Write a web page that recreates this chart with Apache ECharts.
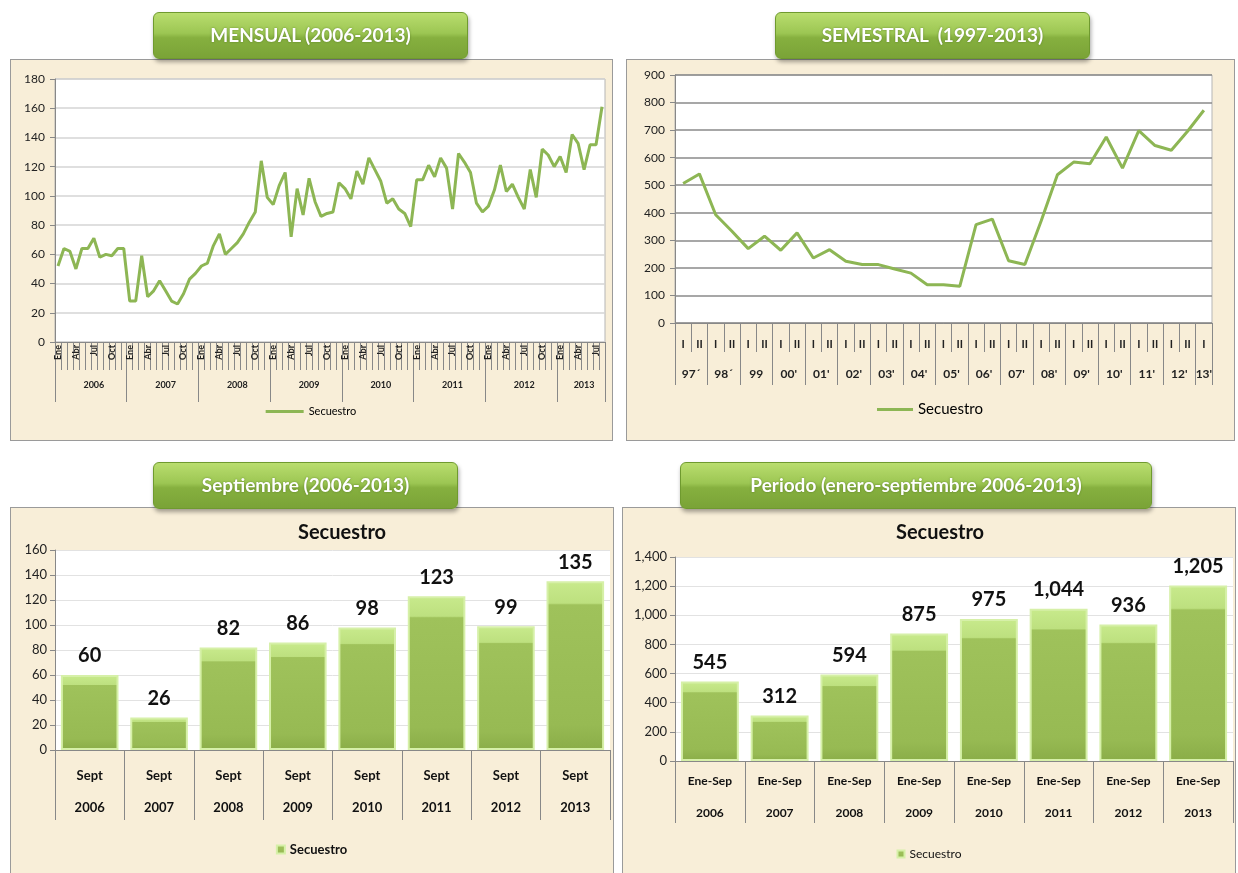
<!DOCTYPE html>
<html>
<head>
<meta charset="utf-8">
<script src="https://cdn.jsdelivr.net/npm/echarts@6/dist/echarts.min.js"></script>
<style>
  body { margin: 0; background: #fff; font-family: Lato, "Open Sans", sans-serif; }
  .panel { position: absolute; background: #f8eed8; border: 1px solid #9a9a9a; box-sizing: border-box; }
  .btn {
    position: absolute; z-index: 5; color: #fff; font-weight: bold; font-size: 19px;
    text-align: center; line-height: 44px; border-radius: 6px; box-sizing: border-box;
    background: linear-gradient(#b9dd6e, #9cc653 45%, #86b03f 55%, #7aa337);
    border: 1px solid #6f9a2f; box-shadow: 1px 3px 4px rgba(0,0,0,0.35);
    text-shadow: 0 0 2px rgba(60,90,20,0.6); font-family: Lato, sans-serif;
  }
  .chart { position: absolute; }
</style>
</head>
<body>
<div class="panel" style="left:10px;top:59px;width:603px;height:382px;"></div>
<div class="panel" style="left:626px;top:59px;width:609px;height:382px;"></div>
<div class="panel" style="left:10px;top:507px;width:604px;height:370px;"></div>
<div class="panel" style="left:622px;top:507px;width:614px;height:370px;"></div>

<div class="btn" style="left:153px;top:12px;width:315px;height:47px;">MENSUAL (2006-2013)</div>
<div class="btn" style="left:775px;top:12px;width:315px;height:47px;">SEMESTRAL &nbsp;(1997-2013)</div>
<div class="btn" style="left:153px;top:462px;width:305px;height:47px;">Septiembre (2006-2013)</div>
<div class="btn" style="left:680px;top:462px;width:472px;height:47px;">Periodo (enero-septiembre 2006-2013)</div>

<div id="c1" class="chart" style="left:10px;top:60px;width:602px;height:380px;"></div>
<div id="c2" class="chart" style="left:626px;top:60px;width:608px;height:380px;"></div>
<div id="c3" class="chart" style="left:10px;top:508px;width:603px;height:365px;"></div>
<div id="c4" class="chart" style="left:622px;top:508px;width:614px;height:365px;"></div>

<script>
// datos mensuales (ene 2006 - ago 2013)
var meses = ['Ene', 'Feb', 'Mar', 'Abr', 'May', 'Jun', 'Jul', 'Ago', 'Sep', 'Oct', 'Nov', 'Dic'];
var anios = ['2006', '2007', '2008', '2009', '2010', '2011', '2012', '2013'];
var m2006 = [52, 64, 62, 50, 64, 64, 71, 58, 60, 59, 64, 64];
var m2007 = [28, 28, 59, 31, 35, 42, 35, 28, 26, 33, 43, 47];
var m2008 = [52, 54, 66, 74, 60, 64, 68, 74, 82, 89, 124, 99];
var m2009 = [94, 107, 116, 72, 105, 87, 112, 96, 86, 88, 89, 109];
var m2010 = [105, 98, 117, 108, 126, 118, 110, 95, 98, 91, 88, 79];
var m2011 = [111, 111, 121, 113, 126, 119, 91, 129, 123, 116, 95, 89];
var m2012 = [93, 104, 121, 103, 108, 99, 91, 118, 99, 132, 128, 120];
var m2013 = [127, 116, 142, 136, 118, 135, 135, 161];

// semestral 1997 - 2013
var semAnios = ['97´', '98´', '99', "00'", "01'", "02'", "03'", "04'", "05'", "06'", "07'", "08'", "09'", "10'", "11'", "12'", "13'"];
var semestral = [506, 541, 393, 333, 270, 315, 264, 327, 236, 266, 224, 212, 212, 196, 181, 139,
                 139, 133, 357, 377, 226, 212, 370, 538, 584, 578, 675, 562, 698, 644, 627, 696, 772];

// septiembre y periodo ene-sep
var septiembre = [60, 26, 82, 86, 98, 123, 99, 135];
var periodo = [545, 312, 594, 875, 975, 1044, 936, 1205];

var verde = '#8db654';
var fuente = 'Lato, sans-serif';

// ---------- mensual ----------
var mensual = [].concat(m2006, m2007, m2008, m2009, m2010, m2011, m2012, m2013);
var catMes = [], catAnio = [];
mensual.forEach(function (v, i) {
    catMes.push(meses[i % 12]);
    var a = Math.floor(i / 12);
    var mid = (a === 7) ? 88 : a * 12 + 6;
    catAnio.push(i === mid ? anios[a] : '');
});

var chart1 = echarts.init(document.getElementById('c1'));
chart1.setOption({
    animation: false,
    grid: { left: 45, top: 19, right: 7, height: 263, show: true, backgroundColor: '#fff', borderColor: '#b5b5b5', borderWidth: 1 },
    legend: {
        bottom: 18, left: 'center', data: ['Secuestro'], icon: 'rect', itemWidth: 38, itemHeight: 3, itemGap: 4,
        textStyle: { fontSize: 11, color: '#000', fontFamily: fuente }
    },
    xAxis: [{
        type: 'category', data: catMes, position: 'bottom',
        axisLine: { lineStyle: { color: '#888' } },
        axisTick: { show: true, interval: 0, length: 28, lineStyle: { color: '#888' } },
        axisLabel: {
            interval: function (i) { return i % 3 === 0; }, rotate: 90, fontSize: 9, fontWeight: 'bold',
            color: '#222', margin: 3, fontFamily: fuente
        }
    }, {
        type: 'category', data: catAnio, position: 'bottom',
        axisLine: { show: false },
        axisTick: { show: true, interval: function (i) { return i % 12 === 0; }, length: 60, lineStyle: { color: '#888' } },
        axisLabel: { interval: 0, fontSize: 9, fontWeight: 'bold', color: '#222', margin: 39, fontFamily: fuente }
    }],
    yAxis: {
        type: 'value', min: 0, max: 180, interval: 20,
        axisLine: { show: true, lineStyle: { color: '#888' } },
        axisTick: { show: true, length: 5, lineStyle: { color: '#888' } },
        axisLabel: { fontSize: 12, color: '#222', margin: 10, fontFamily: fuente },
        splitLine: { lineStyle: { color: '#d4d4d4', width: 1.5 } }
    },
    series: [{
        name: 'Secuestro', type: 'line', data: mensual, xAxisIndex: 0, symbol: 'none',
        lineStyle: { color: verde, width: 3 }, itemStyle: { color: verde }
    }]
});

// ---------- semestral ----------
var catSem = [], catSemAnio = [];
semestral.forEach(function (v, i) {
    catSem.push(i % 2 === 0 ? 'I' : 'II');
    var a = Math.floor(i / 2);
    if (i % 2 === 0) {
        catSemAnio.push(i === semestral.length - 1 ? '{e|' + semAnios[a] + '}' : '{s|' + semAnios[a] + '}');
    } else {
        catSemAnio.push('');
    }
});

var chart2 = echarts.init(document.getElementById('c2'));
chart2.setOption({
    animation: false,
    grid: { left: 49, top: 15, right: 22, height: 248, show: true, backgroundColor: '#fff', borderColor: '#b5b5b5', borderWidth: 1 },
    legend: {
        bottom: 18, left: 'center', data: ['Secuestro'], icon: 'rect', itemWidth: 36, itemHeight: 3, itemGap: 4,
        textStyle: { fontSize: 15, color: '#000', fontFamily: fuente }
    },
    xAxis: [{
        type: 'category', data: catSem, position: 'bottom',
        axisLine: { lineStyle: { color: '#888' } },
        axisTick: { show: true, interval: 0, length: 29, lineStyle: { color: '#888' } },
        axisLabel: { interval: 0, fontSize: 11, fontWeight: 'bold', color: '#222', margin: 16, fontFamily: fuente }
    }, {
        type: 'category', data: catSemAnio, position: 'bottom',
        axisLine: { show: false },
        axisTick: { show: true, interval: function (i) { return i % 2 === 0; }, length: 62, lineStyle: { color: '#888' } },
        axisLabel: {
            interval: 0, margin: 45, color: '#222',
            rich: {
                s: { fontSize: 12, fontWeight: 'bold', color: '#222', padding: [0, 0, 0, 16], fontFamily: fuente },
                e: { fontSize: 12, fontWeight: 'bold', color: '#222', fontFamily: fuente }
            }
        }
    }],
    yAxis: {
        type: 'value', min: 0, max: 900, interval: 100,
        axisLine: { show: true, lineStyle: { color: '#888' } },
        axisTick: { show: true, length: 5, lineStyle: { color: '#888' } },
        axisLabel: { fontSize: 12, color: '#222', margin: 10, fontFamily: fuente },
        splitLine: { lineStyle: { color: '#8a8a8a', width: 1.5 } }
    },
    series: [{
        name: 'Secuestro', type: 'line', data: semestral, symbol: 'none',
        lineStyle: { color: verde, width: 3 }, itemStyle: { color: verde }
    }]
});

// ---------- barras ----------
var barraColor = new echarts.graphic.LinearGradient(0, 0, 0, 1, [
    { offset: 0, color: '#c8ea8c' },
    { offset: 0.13, color: '#bde07f' },
    { offset: 0.14, color: '#9fc25b' },
    { offset: 0.85, color: '#97ba53' },
    { offset: 1, color: '#8aad48' }
]);

function opcionesBarras(datos, linea1, grid, ymax, yint, conComas, tituloX) {
    return {
        animation: false,
        title: {
            text: 'Secuestro', left: tituloX, top: 10, textAlign: 'center',
            textStyle: { fontSize: 20, fontWeight: 'bold', color: '#111', fontFamily: fuente }
        },
        grid: grid,
        legend: {
            bottom: 12, left: 'center', data: ['Secuestro'], icon: 'rect', itemWidth: 8, itemHeight: 8, itemGap: 3,
            textStyle: { fontSize: 13, fontWeight: 'bold', color: '#111', fontFamily: fuente }
        },
        xAxis: {
            type: 'category', data: anios,
            axisLine: { lineStyle: { color: '#888' } },
            axisTick: { show: true, length: 70, lineStyle: { color: '#888' } },
            axisLabel: {
                interval: 0, margin: 10,
                formatter: function (v) { return '{a|' + linea1 + '}\n{b|' + v + '}'; },
                rich: {
                    a: { fontSize: 13, fontWeight: 'bold', color: '#111', lineHeight: 32, fontFamily: fuente },
                    b: { fontSize: 13, fontWeight: 'bold', color: '#111', lineHeight: 32, fontFamily: fuente }
                }
            }
        },
        yAxis: {
            type: 'value', min: 0, max: ymax, interval: yint,
            axisLine: { show: true, lineStyle: { color: '#888' } },
            axisTick: { show: true, length: 5, lineStyle: { color: '#888' } },
            axisLabel: {
                fontSize: 13, color: '#222', margin: 8, fontFamily: fuente,
                formatter: function (v) { return conComas ? v.toLocaleString('en-US') : v; }
            },
            splitLine: { lineStyle: { color: '#e2e2e2' } }
        },
        series: [{
            name: 'Secuestro', type: 'bar', data: datos, barCategoryGap: '17%',
            itemStyle: { color: barraColor, borderColor: '#d6f0a8', borderWidth: 2 },
            label: {
                show: true, position: 'top', distance: 9, fontSize: 20, fontWeight: 'bold', color: '#111',
                fontFamily: fuente, formatter: function (p) { return p.value.toLocaleString('en-US'); }
            }
        }]
    };
}

var chart3 = echarts.init(document.getElementById('c3'));
chart3.setOption(opcionesBarras(septiembre, 'Sept',
    { left: 45, top: 42, right: 3, height: 200, show: true, backgroundColor: '#fff', borderWidth: 0 },
    160, 20, false, 327));

var chart4 = echarts.init(document.getElementById('c4'));
chart4.setOption(opcionesBarras(periodo, 'Ene-Sep',
    { left: 53, top: 49, right: 3, height: 204, show: true, backgroundColor: '#fff', borderWidth: 0 },
    1400, 200, true, 313));
chart4.setOption({
    xAxis: { axisLabel: { margin: 4, rich: { a: { fontSize: 12 }, b: { fontSize: 12 } } }, axisTick: { length: 62 } },
    legend: { bottom: 8, itemWidth: 7, itemHeight: 7, textStyle: { fontSize: 12, fontWeight: 'normal' } }
});
</script>
</body>
</html>
